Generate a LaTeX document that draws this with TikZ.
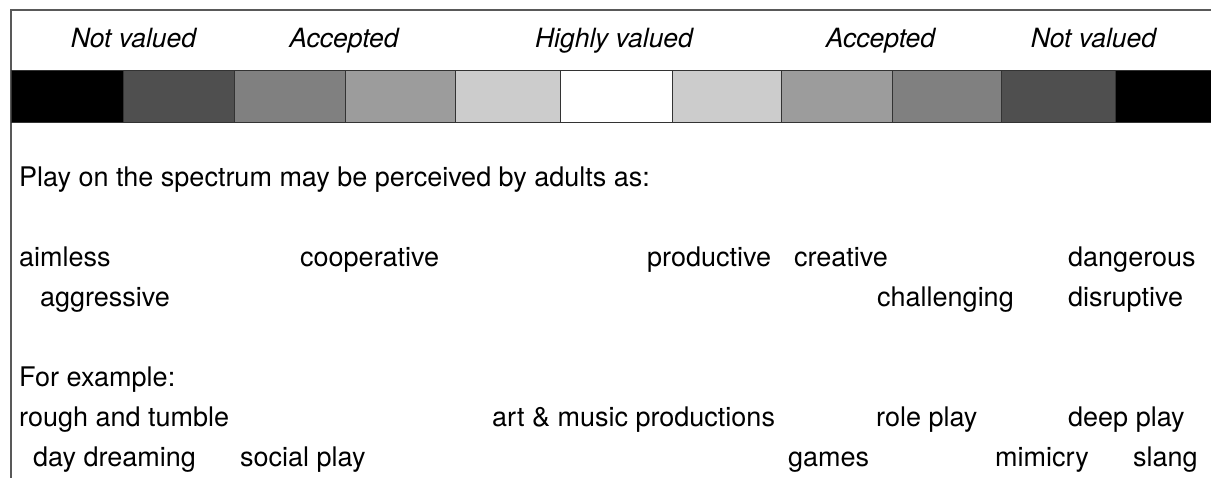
\documentclass[tikz,border=0pt]{standalone}
\usepackage{fontspec}
\setmainfont{TeX Gyre Heros}
\begin{document}
\begin{tikzpicture}[x=1pt,y=-1pt,
  every node/.style={inner sep=0pt,font=\fontsize{27}{32}\selectfont},
  word/.style={anchor=base west},
  head/.style={anchor=base,font=\fontsize{26.5}{32}\selectfont\itshape},
  cellline/.style={draw=black!80,line width=1pt}]
\clip (0,0) rectangle (1211,477);
\fill [white] (0,0) rectangle (1211,477);
\draw [black!65,line width=1.2pt] (11,490) -- (11,10) -- (1230,10);
% spectrum bar
\foreach \a/\b/\g in {11/123/0,123/234/31,234/345/50,345/455/61,455/560/80,
  560/672/100,672/781/80,781/892/61,892/1001/50,1001/1115/31,1115/1230/0}
  \draw [cellline,fill=white!\g!black] (\a,70) rectangle (\b,122);
\node (notl) [head] at (133.5,47) {Not valued};
\node (accl) [head] at (344,47) {Accepted};
\node (high) [head] at (614,47) {Highly valued};
\node (accr) [head] at (880.5,47) {Accepted};
\node (notr) [head] at (1093.5,47) {Not valued};
% perceived as
\node (intro) [word] at (19,186) {Play on the spectrum may be perceived by adults as:};
\node (aimless) [word] at (19,266) {aimless};
\node (coop) [word] at (300,266) {cooperative};
\node (prod) [word] at (647,266) {productive};
\node (creat) [word] at (794,266) {creative};
\node (dang) [word] at (1068,266) {dangerous};
\node (aggr) [word] at (40,306) {aggressive};
\node (chall) [word] at (877,306) {challenging};
\node (disr) [word] at (1068,306) {disruptive};
% examples
\node (forex) [word] at (19,386) {For example:};
\node (rough) [word] at (19,426) {rough and tumble};
\node (art) [word] at (492,426) {art \& music productions};
\node (role) [word] at (876,426) {role play};
\node (deep) [word] at (1068,426) {deep play};
\node (day) [word] at (33,466) {day dreaming};
\node (social) [word] at (240,466) {social play};
\node (games) [word] at (788,466) {games};
\node (mimic) [word] at (995,466) {mimicry};
\node (slang) [word] at (1133,466) {slang};
\end{tikzpicture}
\end{document}
